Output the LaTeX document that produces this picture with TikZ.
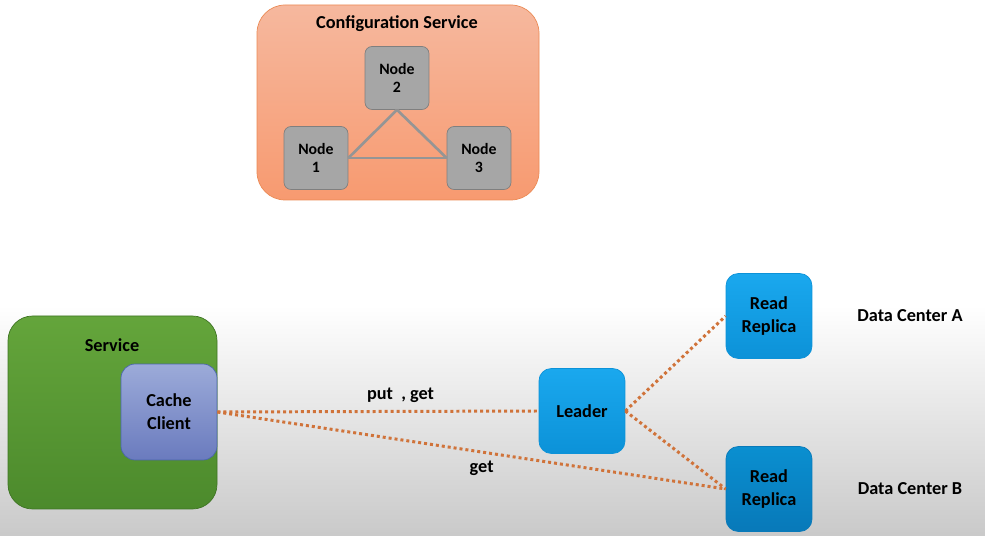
\documentclass[tikz,border=0pt]{standalone}
\usepackage{fontspec}
\setmainfont{Carlito}
\definecolor{cfgtop}{HTML}{F6B89E}
\definecolor{cfgbot}{HTML}{F79A70}
\definecolor{cfgline}{HTML}{EB8A55}
\definecolor{nodegray}{HTML}{A6A6A6}
\definecolor{nodeline}{HTML}{7F7F7F}
\definecolor{svctop}{HTML}{64A53B}
\definecolor{svcbot}{HTML}{4C8A2C}
\definecolor{svcline}{HTML}{3F7524}
\definecolor{cctop}{HTML}{9CABD9}
\definecolor{ccbot}{HTML}{6A7BBE}
\definecolor{ccline}{HTML}{4A66AC}
\definecolor{bluetop}{HTML}{1AA8EE}
\definecolor{bluebot}{HTML}{0C92D8}
\definecolor{darktop}{HTML}{0A8FD0}
\definecolor{darkbot}{HTML}{0879B9}
\definecolor{wire}{HTML}{D0733A}
\begin{document}
\begin{tikzpicture}[x=0.02cm, y=-0.02cm,
		font=\fontsize{10.4}{13}\selectfont\bfseries,
		member/.style={draw=nodeline, fill=nodegray, rounded corners=4pt, minimum width=1.28cm, minimum height=1.26cm, align=center, font=\fontsize{9}{10.5}\selectfont\bfseries},
		bluebox/.style={draw=bluebot, top color=bluetop, bottom color=bluebot, rounded corners=7pt, minimum width=1.72cm, minimum height=1.7cm, align=center},
		link/.style={draw=nodegray!90!black, line width=1.5pt},
		wirelink/.style={draw=wire, line width=1.7pt, dash pattern=on 1.7pt off 1.7pt}]
		\useasboundingbox (0,0) rectangle (985,536);
		\shade [top color=white, bottom color=gray!42] (0,305) rectangle (985,536);
		% configuration service
		\draw [draw=cfgline, top color=cfgtop, bottom color=cfgbot, rounded corners=16pt] (257,5) rectangle (539,200);
		\node (cfg) at (397,24) {Configuration Service};
		\node [member] (n2) at (397,78) {Node\\2};
		\node [member] (n1) at (316,158) {Node\\1};
		\node [member] (n3) at (479,158) {Node\\3};
		\draw [link] (n1.east) -- (n3.west);
		\draw [link] (n1.east) -- (n2.south);
		\draw [link] (n2.south) -- (n3.west);
		% service
		\draw [draw=svcline, top color=svctop, bottom color=svcbot, rounded corners=14pt] (8,316) rectangle (217,509);
		\node (svc) at (112,345) {Service};
		\node [draw=ccline, top color=cctop, bottom color=ccbot, rounded corners=8pt, minimum width=1.92cm, minimum height=1.92cm, align=center] (cache) at (169,412) {Cache\\Client};
		% leader and replicas
		\node [bluebox] (leader) at (582,411) {Leader};
		\node [bluebox] (repa) at (769,316) {Read\\Replica};
		\node [bluebox, draw=darkbot, top color=darktop, bottom color=darkbot] (repb) at (769,489) {Read\\Replica};
		\node (dca) at (910,316) {Data Center A};
		\node (dcb) at (910,489) {Data Center B};
		\draw [wirelink] (cache.east) -- node[pos=0.57, above=1pt]{put~~, get} (leader.west);
		\draw [wirelink] (cache.east) -- (repb.west) node[pos=0.52, below=1pt]{get};
		\draw [wirelink] (leader.east) -- (repa.west);
		\draw [wirelink] (leader.east) -- (repb.west);
	\end{tikzpicture}
\end{document}
